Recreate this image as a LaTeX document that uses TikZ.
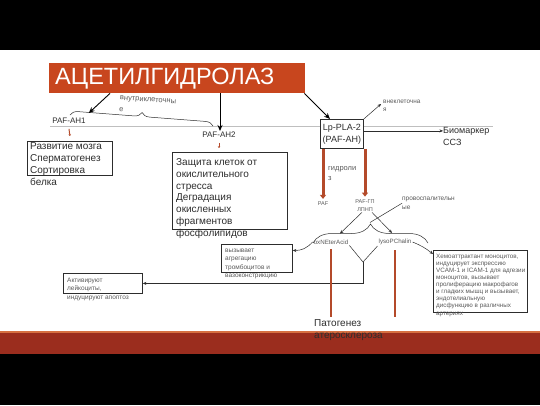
\documentclass[tikz,border=0pt]{standalone}
\usepackage{fontspec}
\setmainfont{Liberation Sans}
\usepackage{xcolor}
\usetikzlibrary{arrows.meta,decorations.pathreplacing}
\definecolor{titlered}{RGB}{200,70,30}
\definecolor{bandred}{RGB}{155,45,30}
\definecolor{stripe}{RGB}{214,112,66}
\definecolor{rust}{RGB}{180,74,42}
\definecolor{ink}{RGB}{45,45,45}
\definecolor{soft}{RGB}{90,90,90}

\begin{document}
\begin{tikzpicture}[x=1pt,y=-1pt,
		box/.style={draw=ink,line width=0.8pt,inner sep=0pt,anchor=north west},
		txt/.style={inner sep=0pt,align=left,anchor=north west,text=ink},
		lbl/.style={inner sep=0pt,align=left,text=soft},
		thin/.style={draw=ink,line width=0.5pt,-{Stealth[length=3.5pt,width=3pt]}},
		heavy/.style={draw=black,line width=0.9pt,-{Stealth[length=6pt,width=5pt]}},
		fat/.style={draw=rust,line width=3pt,-{Triangle[length=4pt,width=6pt]}},
		redtick/.style={draw=rust,line width=1pt,-{Triangle[length=1.5pt,width=2.5pt]}}]
	\useasboundingbox (0,0) rectangle (540,405);
	\fill[black] (0,0) rectangle (540,50);
	\fill[white] (0,50) rectangle (540,331);
	\fill[bandred] (0,331) rectangle (540,354);
	\fill[stripe] (0,331) rectangle (540,333);
	\fill[black] (0,354) rectangle (540,405);
	\draw[black!25,line width=0.8pt] (50,126) -- (493,126);

	\node[fill=titlered,inner sep=0pt,minimum width=256pt,minimum height=30pt,anchor=north west] (title) at (49,63) {};
	\node[inner sep=0pt,anchor=west,text=white,font=\fontsize{23.5}{28}\selectfont] (titletxt) at (55,78.5) {АЦЕТИЛГИДРОЛАЗ};

	\node[lbl,font=\fontsize{8}{10}\selectfont,text=ink,inner sep=1pt] (pafah1) at (69,121) {PAF-AH1};
	\node[lbl,font=\fontsize{8}{10}\selectfont,text=ink,inner sep=1pt] (pafah2) at (219,135) {PAF-AH2};
	\node[lbl,font=\fontsize{7.5}{11.5}\selectfont,anchor=north west,rotate=-4] (intra) at (120,95.5) {внутриклеточны\\е};
	\draw[ink,line width=0.5pt,decorate,decoration={brace,amplitude=8pt}] (70,115) -- (213,126);

	\node[box,minimum width=85pt,minimum height=34pt] (devbox) at (27,141) {};
	\node[txt,font=\fontsize{10}{12}\selectfont] (devtxt) at (30,142.9) {Развитие мозга\\Сперматогенез\\Сортировка\\белка};
	\node[box,minimum width=115pt,minimum height=77pt] (protbox) at (172,152) {};
	\node[txt,font=\fontsize{10}{11.8}\selectfont] (prottxt) at (176,158.4) {Защита клеток от\\окислительного\\стресса\\Деградация\\окисленных\\фрагментов\\фосфолипидов};

	\node[draw=ink,line width=0.8pt,fill=white,inner sep=0pt,minimum width=43pt,minimum height=29pt,align=center,text=ink,font=\fontsize{9}{12}\selectfont,anchor=north west] (lp) at (320,119) {Lp-PLA-2\\(PAF-AH)};
	\node[lbl,anchor=north west,font=\fontsize{6.4}{8}\selectfont] (extra) at (383,100) {внеклеточна\\я};
	\node[lbl,anchor=north west,text=ink,font=\fontsize{9}{11.5}\selectfont] (biomark) at (443,127.5) {Биомаркер\\ССЗ};
	\node[lbl,anchor=north west,font=\fontsize{7.5}{10}\selectfont] (hydro) at (328,166) {гидроли\\з};

	\node[lbl,font=\fontsize{5.5}{7}\selectfont,inner sep=1pt] (paf) at (323,204) {PAF};
	\node[lbl,align=center,font=\fontsize{5.5}{7.5}\selectfont,inner sep=1pt] (pafgp) at (365,205.5) {PAF-ГП\\ЛПНП};
	\node[lbl,anchor=north west,font=\fontsize{6.5}{8.5}\selectfont] (provosp) at (402,197) {провоспалительн\\ые};
	\node[lbl,font=\fontsize{6.2}{8}\selectfont,inner sep=1pt] (ox) at (331,242) {oxNEterAcid};
	\node[lbl,font=\fontsize{6.2}{8}\selectfont,inner sep=1pt] (lyso) at (395,242) {lysoPChalin};
	\coordinate (bracetip) at (370,222.5);
	\draw[ink,line width=0.5pt,decorate,decoration={brace,amplitude=19pt}] (313,243) -- (428,243);

	\node[box,minimum width=71pt,minimum height=28pt] (callbox) at (221,244) {};
	\node[txt,text=soft,font=\fontsize{6.5}{8.2}\selectfont] (calltxt) at (225,249) {вызывает\\агрегацию\\тромбоцитов и\\вазоконстрикцию};
	\node[box,minimum width=79pt,minimum height=20pt] (actbox) at (63,273) {};
	\node[txt,text=soft,font=\fontsize{6.5}{8.5}\selectfont] (acttxt) at (67,277.7) {Активируют\\лейкоциты,\\индуцируют апоптоз};
	\node[box,minimum width=94pt,minimum height=62pt] (hemobox) at (433,250) {};
	\node[txt,text=soft,font=\fontsize{6.3}{7.1}\selectfont] (hemotxt) at (436,253.7) {Хемоаттрактант моноцитов,\\индуцирует экспрессию\\VCAM-1 и ICAM-1 для адгезии\\моноцитов, вызывает\\пролиферацию макрофагов\\и гладких мышц и вызывает,\\эндотелиальную\\дисфункцию в различных\\артериях};

	\node[lbl,anchor=north west,text=ink,font=\fontsize{10}{12}\selectfont] (patho) at (314,319.4) {Патогенез\\атеросклероза};
	\coordinate (yjoin) at (363,262);

	\draw[heavy] ([xshift=61pt]title.south west) -- ([xshift=2pt,yshift=4pt]pafah1.north east);
	\draw[heavy] ([xshift=171pt]title.south west) -- ([xshift=171pt]title.south west |- pafah2.north);
	\draw[heavy] ([xshift=-1pt]title.south east) -- ([xshift=10pt]lp.north west);
	\draw[redtick] ([yshift=-4pt]pafah1.south) -- ([yshift=5pt]devbox.north);
	\draw[redtick] ([yshift=-4pt]pafah2.south) -- ([yshift=4pt]pafah2.south |- protbox.north);
	\draw[thin] ([yshift=3pt]lp.east) -- ([yshift=3pt]lp.east -| biomark.west);
	\draw[thin] (lp.north east) -- ([xshift=-2pt,yshift=-4pt]extra.north west);
	\draw[fat] (paf.north |- lp.south) -- ([yshift=2pt]paf.north);
	\draw[fat] (pafgp.north |- lp.south) -- ([yshift=2pt]pafgp.north);
	\draw[thin] ([xshift=-3pt]pafgp.south) -- ([xshift=9pt,yshift=5pt]ox.north);
	\draw[thin] ([xshift=7pt]pafgp.south) -- ([xshift=-3pt,yshift=5pt]lyso.north);
	\draw[ink,line width=0.5pt] (provosp.west) -- (bracetip);
	\draw[thin] (ox.west) to[bend left=25] ([yshift=8pt]callbox.east);
	\draw[thin] (lyso.east) to[bend left=8] ([yshift=-4pt]hemobox.north west);
	\draw[ink,line width=0.5pt] (ox.south east) -- (yjoin);
	\draw[ink,line width=0.5pt] (lyso.south west) -- (yjoin);
	\draw[thin] (yjoin) |- (actbox.east);
	\draw[rust,line width=2pt] ([yshift=-4pt]ox.south) -- ([yshift=2pt]ox.south |- patho.north);
	\draw[rust,line width=2pt] ([yshift=-4pt]lyso.south) -- ([yshift=2pt]lyso.south |- patho.north);
\end{tikzpicture}
\end{document}
